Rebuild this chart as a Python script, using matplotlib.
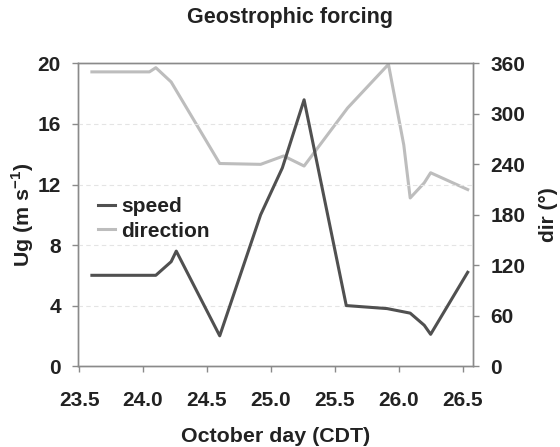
import matplotlib
matplotlib.use("Agg")
import matplotlib.pyplot as plt

plt.rcParams['font.family'] = ['Liberation Sans', 'DejaVu Sans']
plt.rcParams['font.weight'] = 'bold'
plt.rcParams['mathtext.default'] = 'bf'

# geostrophic wind speed (m/s)
speed_day = [23.60, 24.10, 24.22, 24.26, 24.60, 24.92, 25.09, 25.26,
             25.59, 25.91, 26.09, 26.20, 26.25, 26.54]
speed = [6.0, 6.0, 6.9, 7.6, 2.0, 10.0, 13.1, 17.6,
         4.0, 3.8, 3.5, 2.7, 2.1, 6.2]

# geostrophic wind direction (deg)
dir_day = [23.60, 24.05, 24.10, 24.22, 24.60, 24.92, 25.10, 25.26,
           25.60, 25.92, 26.04, 26.09, 26.20, 26.25, 26.54]
direction = [350, 350, 355, 338, 241, 240, 250, 238,
             307, 359, 263, 200, 218, 230, 210]

xticks = [23.5, 24.0, 24.5, 25.0, 25.5, 26.0, 26.5]
speed_ticks = [0, 4, 8, 12, 16, 20]
dir_ticks = [0, 60, 120, 180, 240, 300, 360]

SPEED_C = '#505050'
DIR_C = '#bdbdbd'
AX_C = '#8a8a8a'
TXT_C = '#222222'

fig = plt.figure(figsize=(5.6, 4.47), dpi=100)
ax1 = fig.add_axes([0.139, 0.181, 0.706, 0.677])
ax2 = ax1.twinx()

l1, = ax1.plot(speed_day, speed, '-', color=SPEED_C, lw=2.2, label='speed')
l2, = ax2.plot(dir_day, direction, '-', color=DIR_C, lw=2.2, label='direction')
ax1.set_zorder(ax2.get_zorder() + 1)
ax1.patch.set_visible(False)

ax1.set_xlim(23.49, 26.583)
ax1.set_ylim(0, 20)
ax2.set_ylim(0, 360)
ax1.set_xticks(xticks)
ax1.set_xticklabels(['%.1f' % t for t in xticks])
ax1.set_yticks(speed_ticks)
ax2.set_yticks(dir_ticks)

for y in speed_ticks[1:-1]:
    ax1.axhline(y, color='#e4e4e4', lw=0.8, ls=(0, (4, 3)), zorder=0)

for ax in (ax1, ax2):
    for s in ax.spines.values():
        s.set_color(AX_C)
        s.set_linewidth(1.0)
    ax.tick_params(colors=AX_C, labelcolor=TXT_C, labelsize=15,
                   length=4.2, width=1.0, pad=8)
    for lab in ax.get_xticklabels() + ax.get_yticklabels():
        lab.set_fontweight('bold')

ax1.tick_params(axis='x', pad=14)

ax1.set_xlabel('October day (CDT)', fontsize=15.4, fontweight='bold',
               labelpad=12, color=TXT_C)
ax1.set_ylabel('Ug (m s$^{\\mathregular{-1}}$)', fontsize=15.4, fontweight='bold',
               color=TXT_C)
ax1.yaxis.set_label_coords(-0.105, 0.5)
ax2.set_ylabel('dir (°)', fontsize=15, fontweight='bold',
               labelpad=10, color=TXT_C)
fig.text(0.518, 0.96, 'Geostrophic forcing', fontsize=15.5, fontweight='bold',
         ha='center', va='center', color=TXT_C)

leg = ax1.legend(handles=[l1, l2], loc='upper left', bbox_to_anchor=(0.03, 0.585),
                 frameon=False, prop={'weight': 'bold', 'size': 15},
                 handlelength=0.8, handletextpad=0.3,
                 labelspacing=0.25, borderaxespad=0, labelcolor=TXT_C)

fig.savefig('out.png', dpi=100)
